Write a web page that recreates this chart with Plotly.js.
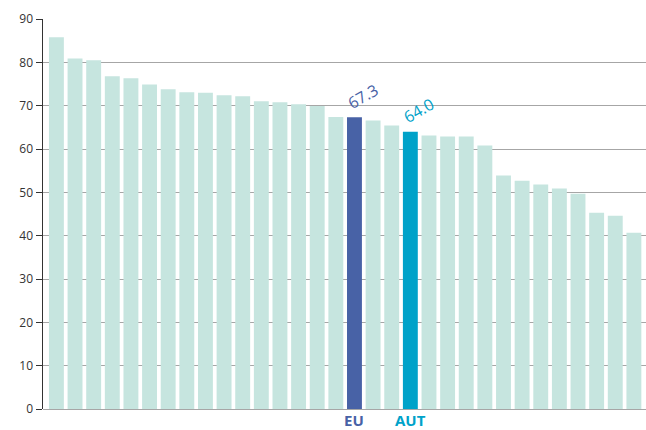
<!DOCTYPE html>
<html>
<head>
<meta charset="utf-8">
<script src="https://cdn.plot.ly/plotly-3.0.1.min.js"></script>
<style>html,body{margin:0;padding:0;background:#fff;}#chart{width:646px;height:430px;}</style>
</head>
<body>
<div id="chart"></div>
<script>
// Countries sorted by value; only EU and AUT are labelled in the reference
var labels = ["","","","","","","","","","","","","","","","","EU","","","AUT","","","","","","","","","","","",""];
var values = [85.8,80.9,80.5,76.8,76.3,74.9,73.8,73.1,73.0,72.4,72.2,71.0,70.8,70.3,69.9,67.4,67.3,66.6,65.4,64.0,63.1,62.9,62.9,60.8,53.9,52.7,51.8,50.9,49.7,45.3,44.6,40.7];
var yTicks = [0,10,20,30,40,50,60,70,80,90];

var baseColor = "#c6e5df", euColor = "#4862a6", autColor = "#00a2c9";
var idx = values.map(function(_, i){ return i; });
var colors = labels.map(function(l){ return l === "EU" ? euColor : (l === "AUT" ? autColor : baseColor); });

var annotations = [];
labels.forEach(function(l, i){
  if (!l) return;
  var c = l === "EU" ? euColor : autColor;
  annotations.push({x: i, y: values[i], xref: "x", yref: "y", text: values[i].toFixed(1),
    showarrow: false, textangle: -30, xanchor: "center", yanchor: "bottom",
    xshift: 9, yshift: 1, font: {family: "Open Sans, sans-serif", size: 16, color: c}});
  annotations.push({x: i, y: 0, xref: "x", yref: "paper", text: "<b>" + l + "</b>",
    showarrow: false, xanchor: "center", yanchor: "middle", yshift: -11, borderpad: 0,
    font: {family: "Open Sans, sans-serif", size: 15, color: c}});
});

Plotly.newPlot("chart", [{
  type: "bar", x: idx, y: values, marker: {color: colors}, width: 0.8,
  hoverinfo: "none"
}], {
  width: 646, height: 430,
  margin: {l: 43, r: 0, t: 19, b: 21},
  paper_bgcolor: "#fff", plot_bgcolor: "#fff",
  showlegend: false,
  bargap: 0.2,
  xaxis: {range: [-0.72, 31.65], showticklabels: false, showgrid: false, zeroline: false, ticks: "", fixedrange: true},
  yaxis: {range: [0, 90], tickvals: yTicks, ticks: "outside", ticklen: 6, tickcolor: "#333",
    showline: true, linecolor: "#333", linewidth: 1.5, gridcolor: "#a6a6a6", gridwidth: 1,
    zeroline: true, zerolinecolor: "#a6a6a6", zerolinewidth: 1,
    tickfont: {family: "Open Sans, sans-serif", size: 12, color: "#333"}},
  annotations: annotations
}, {displayModeBar: false, staticPlot: true});
</script>
</body>
</html>
